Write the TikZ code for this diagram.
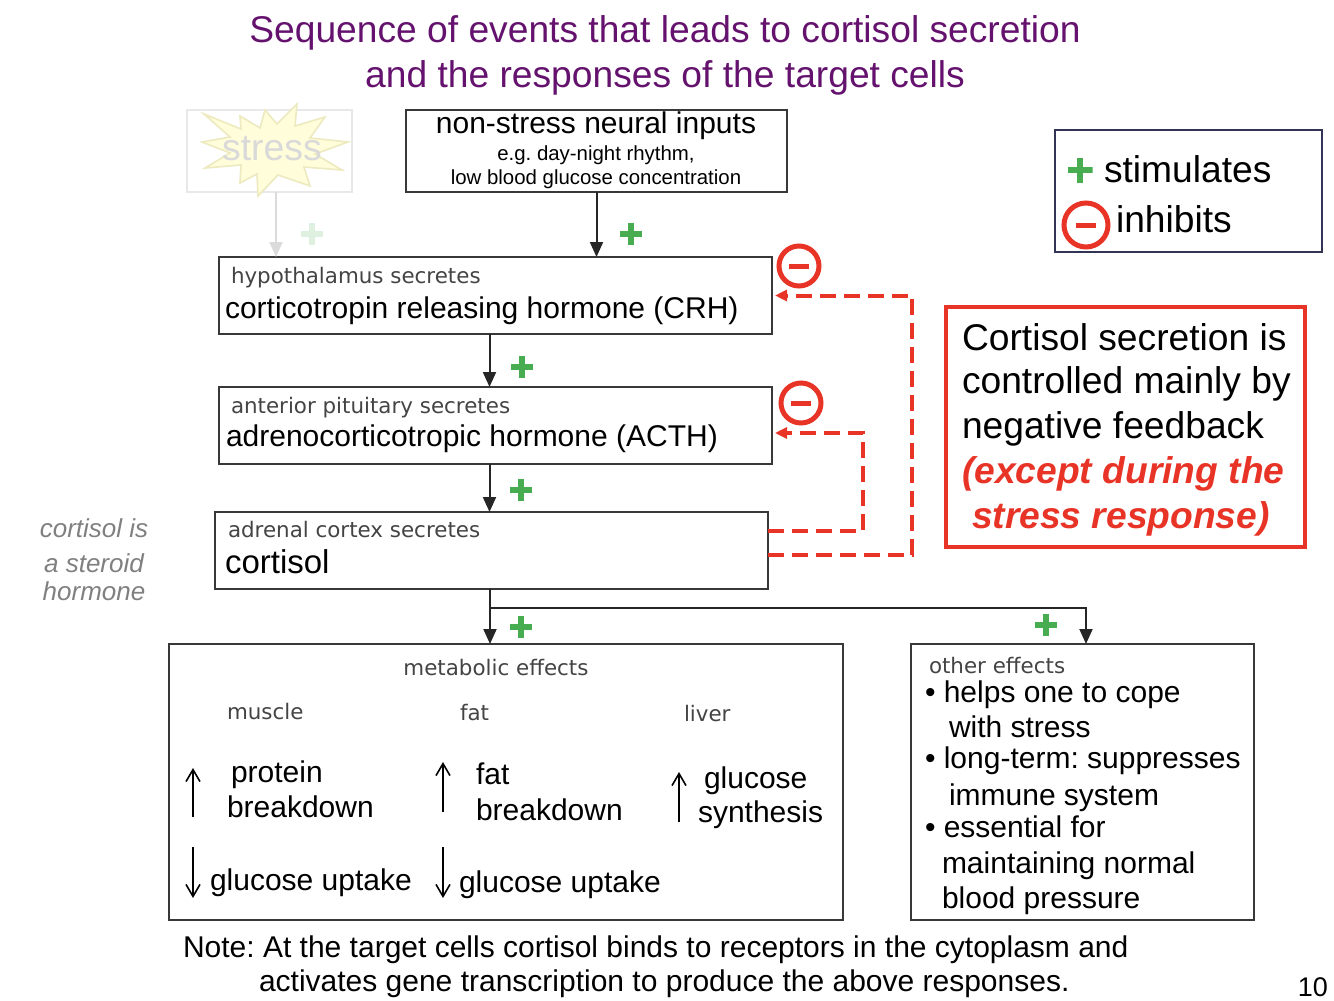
\documentclass[tikz,border=0pt]{standalone}
\usepackage{fontspec}
\setmainfont{Liberation Sans}
\newfontfamily\genfont{DejaVu Sans}
\usetikzlibrary{positioning,arrows.meta,calc}
\definecolor{titlepurple}{RGB}{100,18,110}
\definecolor{fbred}{RGB}{232,52,38}
\definecolor{plusgreen}{RGB}{72,172,80}
\definecolor{tagtext}{RGB}{68,68,68}
\definecolor{legendnavy}{RGB}{50,52,85}
\definecolor{burstfill}{RGB}{255,253,218}
\definecolor{burstline}{RGB}{236,234,190}
\colorlet{pluscol}{plusgreen}
\frenchspacing

\begin{document}
\begin{tikzpicture}[x=0.5pt,y=-0.5pt]
    \tikzstyle{every node}=[inner sep=0,outer sep=0]
    \tikzstyle{box}=[draw=black!78,line width=1.1pt,rectangle,fill=white]
    \tikzstyle{txt}=[anchor=base west,font=\fontsize{15}{18}\selectfont]
    \tikzstyle{big}=[anchor=base west,font=\fontsize{18.6}{22}\selectfont]
    \tikzstyle{tag}=[anchor=base west,text=tagtext,font=\genfont\fontsize{10.7}{13}\selectfont]
    \tikzstyle{arr}=[line width=1pt,black!85,-{Triangle[length=7.5pt,width=6.5pt]}]
    \tikzstyle{fb}=[fbred,line width=2pt,dash pattern=on 8pt off 4pt,-{Triangle[length=6pt,width=5.5pt]}]
    \tikzstyle{updown}=[line width=0.8pt,-{Straight Barb[length=6pt,width=7pt]}]
    \tikzstyle{plus}=[minimum size=11pt,path picture={
        \draw[pluscol,line width=2.8pt]
            (path picture bounding box.north) -- (path picture bounding box.south)
            (path picture bounding box.west) -- (path picture bounding box.east);}]
    \tikzstyle{minus}=[circle,draw=fbred,line width=2.5pt,minimum size=20pt,path picture={
        \draw[fbred,line width=2.5pt]
            ([xshift=-5pt]path picture bounding box.center) -- ([xshift=5pt]path picture bounding box.center);}]

    \useasboundingbox (0,0) rectangle (1334,1001);

    % title
    \node[anchor=base,text=titlepurple,font=\fontsize{18.6}{22}\selectfont] (title1) at (665,42) {Sequence of events that leads to cortisol secretion};
    \node[anchor=base,text=titlepurple,font=\fontsize{18.6}{22}\selectfont] (title2) at (665,87) {and the responses of the target cells};

    % faded stress input
    \node[box,draw=black!9,minimum width=82.5pt,minimum height=41pt] (stressbox) at (269.5,151) {};
    \begin{scope}[shift={(270,150)}]
        \draw[fill=burstfill,draw=burstline,line width=0.8pt]
            (27,-46) -- (25,-24) -- (55,-33) -- (40,-12) -- (78,-8) -- (45,4) -- (72,20) -- (34,17)
            -- (40,36) -- (8,25) -- (-12,46) -- (-13,24) -- (-30,33) -- (-29,15) -- (-65,18) -- (-40,3)
            -- (-68,-8) -- (-40,-13) -- (-66,-36) -- (-29,-21) -- (-30,-34) -- (-10,-22) -- (-5,-40) -- (7,-26) -- cycle;
    \end{scope}
    \node[anchor=base,text=black!15,font=\fontsize{18.7}{22}\selectfont] (stresstxt) at (272,160) {stress};

    % non-stress inputs
    \node[box,minimum width=190.5pt,minimum height=41pt] (nsbox) at (596.5,151) {};
    \node[anchor=base,font=\fontsize{15}{18}\selectfont] (nstitle) at (596,133) {non-stress neural inputs};
    \node[anchor=base,font=\fontsize{10.2}{12}\selectfont] (nsline1) at (596,160) {e.g. day-night rhythm,};
    \node[anchor=base,font=\fontsize{10.2}{12}\selectfont] (nsline2) at (596,184) {low blood glucose concentration};

    % hormone chain
    \node[box,minimum width=276.5pt,minimum height=38.5pt] (crh) at (495.5,295.5) {};
    \node[tag] (crhtag) at (231,283) {hypothalamus secretes};
    \node[txt] (crhtxt) at (225,318) {corticotropin releasing hormone (CRH)};

    \node[box,minimum width=276.5pt,minimum height=38.5pt] (acth) at (495.5,425.5) {};
    \node[tag] (acthtag) at (231,413) {anterior pituitary secretes};
    \node[txt] (acthtxt) at (226,446) {adrenocorticotropic hormone (ACTH)};

    \node[box,minimum width=276.5pt,minimum height=38.5pt] (cort) at (491.5,550.5) {};
    \node[tag] (corttag) at (228,537) {adrenal cortex secretes};
    \node[txt,font=\fontsize{16.5}{20}\selectfont] (corttxt) at (225,573) {cortisol};

    \node[anchor=base,text=black!50,font=\itshape\fontsize{13}{16}\selectfont] (side1) at (94,537) {cortisol is};
    \node[anchor=base,text=black!50,font=\itshape\fontsize{13}{16}\selectfont] (side2) at (94,572) {a steroid};
    \node[anchor=base,text=black!50,font=\itshape\fontsize{13}{16}\selectfont] (side3) at (94,600) {hormone};

    % stimulating arrows
    \draw[arr,black!14] ([xshift=3.25pt]stressbox.south) -- ([xshift=3.25pt]stressbox.south |- crh.north);
    \draw[arr] (nsbox.south) -- (nsbox.south |- crh.north);
    \draw[arr] ([xshift=-3pt]crh.south) -- ([xshift=-3pt]acth.north);
    \draw[arr] ([xshift=-3pt]acth.south) -- ([xshift=-3pt]acth.south |- cort.north);

    {
        \colorlet{pluscol}{plusgreen!18}
        \node[plus] (plusstress) at (312,234) {};
    }
    \node[plus] (plusns) at (631,234) {};
    \node[plus] (pluscrh) at (522,367) {};
    \node[plus] (plusacth) at (521,490) {};

    % negative feedback
    \draw[fb] ([yshift=-2.25pt]cort.east) -- ++(72pt,0) |- ([xshift=1.5pt]crh.east);
    \draw[fb] ([yshift=9.75pt]cort.east) -- ++(47.5pt,0) |- ([xshift=1.5pt,yshift=-3.75pt]acth.east);
    \node[minus] (inhcrh) at (799,266) {};
    \node[minus] (inhacth) at (801,403) {};

    % legend
    \node[box,draw=legendnavy,line width=0.8pt,minimum width=133.5pt,minimum height=61pt] (legend) at (1188.5,191) {};
    \node[plus,minimum size=12.5pt] (legplus) at (1080,170) {};
    \node[big] (legstim) at (1104,182) {stimulates};
    \node[minus,minimum size=22pt] (legminus) at (1086,225) {};
    \node[big] (leginh) at (1116,232) {inhibits};

    % control note
    \node[box,draw=fbred,line width=2pt,minimum width=179.5pt,minimum height=120pt] (ctrl) at (1125.5,427) {};
    \node[big] (ctrl1) at (962,350) {Cortisol secretion is};
    \node[big] (ctrl2) at (962,393) {controlled mainly by};
    \node[big] (ctrl3) at (962,438) {negative feedback};
    \node[big,text=fbred,font=\bfseries\itshape\fontsize{18.6}{22}\selectfont] (ctrl4) at (962,483) {(except during the};
    \node[big,text=fbred,font=\bfseries\itshape\fontsize{18.6}{22}\selectfont] (ctrl5) at (972,528) {stress response)};

    % responses of the target cells
    \node[box,minimum width=337pt,minimum height=138pt] (meta) at (506,782) {};
    \node[box,minimum width=171.5pt,minimum height=138pt] (other) at (1082.5,782) {};

    \coordinate (split) at ([xshift=-0.75pt,yshift=-9.5pt]cort.south);
    \draw[arr] ([xshift=-0.75pt]cort.south) -- ([xshift=-0.75pt]cort.south |- meta.north);
    \draw[arr] (split) -| ([xshift=1.75pt]other.north);
    \node[plus] (plusmeta) at (521,627) {};
    \node[plus] (plusother) at (1046,625) {};

    \node[tag,anchor=base] (metatag) at (496,675) {metabolic effects};
    \node[tag] (muscletag) at (227,719) {muscle};
    \node[tag] (fattag) at (460,720) {fat};
    \node[tag] (livertag) at (684,721) {liver};

    \foreach \x/\ya/\yb in {193/817/768, 443/812/762, 679/822/772, 193/847/898, 443/847/898}
        \draw[updown] (\x,\ya) -- (\x,\yb);

    \node[txt] (prot1) at (231,782) {protein};
    \node[txt] (prot2) at (227,817) {breakdown};
    \node[txt] (fat1) at (476,784) {fat};
    \node[txt] (fat2) at (476,820) {breakdown};
    \node[txt] (gluc1) at (704,788) {glucose};
    \node[txt] (gluc2) at (698,822) {synthesis};
    \node[txt] (upt1) at (210,890) {glucose uptake};
    \node[txt] (upt2) at (459,892) {glucose uptake};

    \node[tag] (othertag) at (929,673) {other effects};
    \node[txt] (oth1) at (925,702) {\textbullet\ helps one to cope};
    \node[txt] (oth2) at (949,737) {with stress};
    \node[txt] (oth3) at (925,768) {\textbullet\ long-term: suppresses};
    \node[txt] (oth4) at (949,805) {immune system};
    \node[txt] (oth5) at (925,837) {\textbullet\ essential for};
    \node[txt] (oth6) at (942,873) {maintaining normal};
    \node[txt] (oth7) at (942,908) {blood pressure};

    % footnote
    \node[txt] (note1) at (183,957) {Note: At the target cells cortisol binds to receptors in the cytoplasm and};
    \node[txt] (note2) at (259,991) {activates gene transcription to produce the above responses.};
    \node[anchor=base east,font=\fontsize{13.5}{16}\selectfont] (pagenum) at (1328,996) {10};
\end{tikzpicture}
\end{document}
